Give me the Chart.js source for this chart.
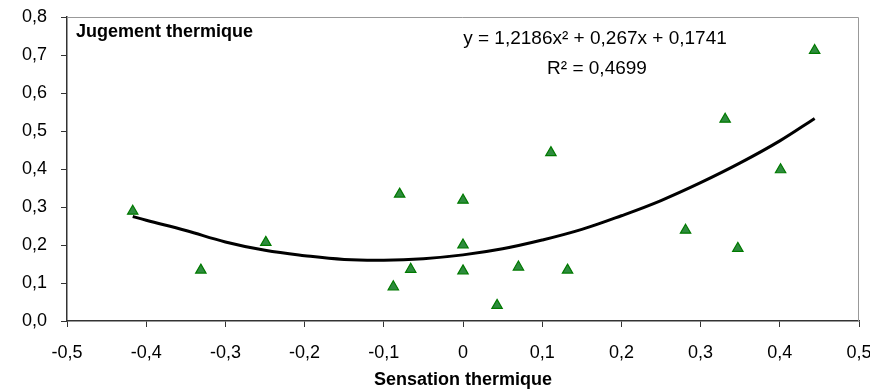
<!DOCTYPE html>
<html>
<head>
<meta charset="utf-8">
<script src="https://cdn.jsdelivr.net/npm/chart.js@4/dist/chart.umd.min.js"></script>
<style>
  body { margin: 0; background: #fff; }
  canvas { display: block; }
</style>
</head>
<body>
<canvas id="graphique" width="870" height="392"></canvas>
<script>
// points observés (sensation, jugement)
const sensation = [-0.417, -0.331, -0.249, -0.080, 0, 0, 0, -0.088, -0.066, 0.043, 0.070, 0.132, 0.111, 0.281, 0.347, 0.331, 0.401, 0.444];
const jugement  = [0.289, 0.134, 0.207, 0.334, 0.318, 0.200, 0.132, 0.090, 0.136, 0.041, 0.142, 0.134, 0.443, 0.239, 0.191, 0.531, 0.398, 0.712];

// courbe de tendance
const tendanceX = [-0.417, -0.40, -0.35, -0.30, -0.25, -0.20, -0.15, -0.10, -0.05, 0, 0.05, 0.10, 0.15, 0.20, 0.25, 0.30, 0.35, 0.40, 0.444];
const tendanceY = [0.275, 0.265, 0.238, 0.208, 0.186, 0.172, 0.162, 0.160, 0.164, 0.174, 0.190, 0.213, 0.241, 0.277, 0.317, 0.364, 0.416, 0.474, 0.533];

const equation = 'y = 1,2186x² + 0,267x + 0,1741';
const r2 = 'R² = 0,4699';
const titreY = 'Jugement thermique';
const titreX = 'Sensation thermique';

const police = 'Liberation Sans, Arial, sans-serif';
const virgule = v => Math.abs(v) < 1e-9 ? '0' : (Math.round(v * 10) / 10).toFixed(1).replace('.', ',');

const textes = {
    id: 'textes',
    afterDraw(chart) {
        const c = chart.ctx, a = chart.chartArea;
        c.save();
        // cadre haut et droit
        c.strokeStyle = '#999';
        c.lineWidth = 1;
        c.beginPath();
        c.moveTo(a.left, a.top + 0.5);
        c.lineTo(a.right - 0.5, a.top + 0.5);
        c.lineTo(a.right - 0.5, a.bottom);
        c.stroke();

        c.fillStyle = '#000';
        c.textBaseline = 'alphabetic';
        c.font = 'bold 18px ' + police;
        c.textAlign = 'left';
        c.fillText(titreY, 76, 37);

        c.font = '19px ' + police;
        c.textAlign = 'center';
        c.fillText(equation, 595, 44);
        c.fillText(r2, 597, 74);
        c.restore();
    }
};

const sansMarge = s => { s.paddingLeft = 0; s.paddingRight = 0; s.paddingTop = 0; s.paddingBottom = 0; };

const ctx = document.getElementById('graphique').getContext('2d');
new Chart(ctx, {
    type: 'scatter',
    data: {
        datasets: [
            {
                label: 'Observations',
                data: sensation.map((x, i) => ({ x: x, y: jugement[i] })),
                pointStyle: 'triangle',
                pointRadius: 6,
                backgroundColor: '#2e8b3e',
                borderColor: '#007a00',
                borderWidth: 1.2,
                order: 0
            },
            {
                label: 'Tendance',
                data: tendanceX.map((x, i) => ({ x: x, y: tendanceY[i] })),
                showLine: true,
                pointRadius: 0,
                borderColor: '#000',
                borderWidth: 3,
                tension: 0.4,
                order: 1
            }
        ]
    },
    options: {
        responsive: false,
        animation: false,
        layout: { padding: { left: 0, right: 11, top: 17, bottom: 0 } },
        plugins: {
            legend: { display: false },
            tooltip: { enabled: false }
        },
        scales: {
            x: {
                type: 'linear',
                min: -0.5,
                max: 0.5,
                afterFit: s => { sansMarge(s); s.height = 71; },
                ticks: {
                    stepSize: 0.1,
                    padding: 15,
                    color: '#000',
                    font: { family: police, size: 18 },
                    callback: v => virgule(v)
                },
                grid: { drawOnChartArea: false, drawTicks: true, tickLength: 6, color: '#333' },
                border: { display: true, color: '#333', width: 1.5 },
                title: {
                    display: true,
                    text: titreX,
                    color: '#000',
                    font: { family: police, size: 18, weight: 'bold' },
                    padding: { top: 2, bottom: 1 }
                }
            },
            y: {
                min: 0,
                max: 0.8,
                afterFit: s => { sansMarge(s); s.width = 67; },
                ticks: {
                    stepSize: 0.1,
                    padding: 14,
                    color: '#000',
                    font: { family: police, size: 18 },
                    callback: v => virgule(v).replace(/^0$/, '0,0')
                },
                grid: { drawOnChartArea: false, drawTicks: true, tickLength: 6, color: '#333' },
                border: { display: true, color: '#333', width: 1.5 }
            }
        }
    },
    plugins: [textes]
});
</script>
</body>
</html>
